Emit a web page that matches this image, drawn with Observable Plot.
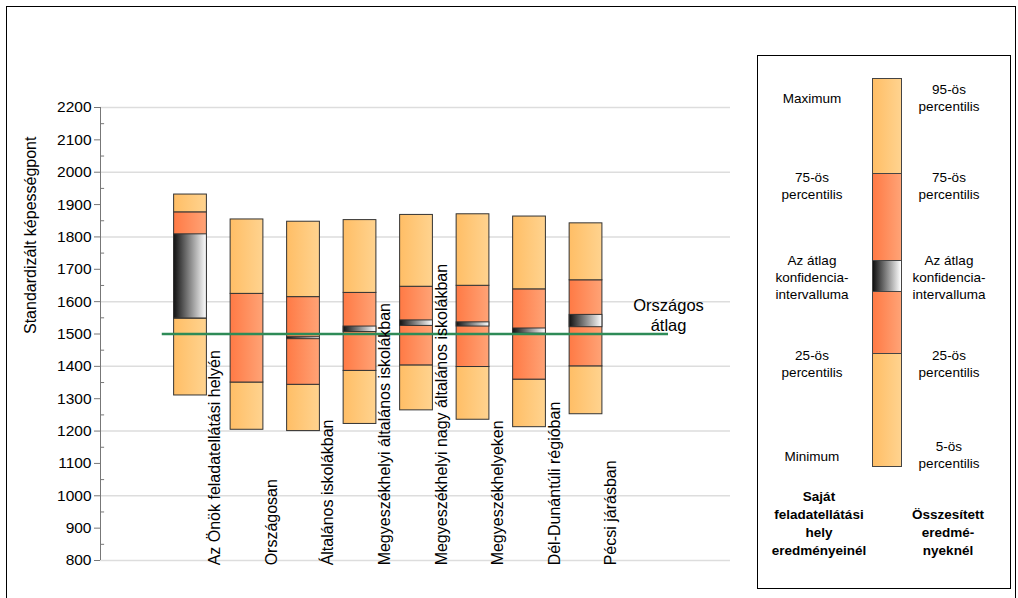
<!DOCTYPE html>
<html><head><meta charset="utf-8">
<script src="https://cdn.jsdelivr.net/npm/d3@7"></script>
<script src="https://cdn.jsdelivr.net/npm/@observablehq/plot@0.6"></script>
<style>
body{margin:0;font-family:Arial,"Liberation Sans",sans-serif;}
#wrap{position:relative;width:1018px;height:598px;background:#fff;}
#frame{position:absolute;left:6px;top:6px;width:1008px;height:600px;border:1px solid #000;}
#chart{position:absolute;left:0;top:0;}
#legend{position:absolute;left:757px;top:55px;width:254px;height:534px;border:1px solid #000;box-sizing:border-box;}
.lt{position:absolute;font-size:13.5px;text-align:center;line-height:17px;color:#000;}
.seg{position:absolute;left:114px;width:30px;box-sizing:border-box;border:1px solid #444;}
</style></head><body>
<div id="wrap"><div id="frame"></div><div id="chart"></div>
<div id="legend">
  <div class="seg" style="top:22px;height:96px;background:linear-gradient(90deg,#ffbe66,#ffd38f)"></div>
  <div class="seg" style="top:117px;height:88px;background:linear-gradient(90deg,#ff7a45,#ffa376)"></div>
  <div class="seg" style="top:204px;height:32px;background:linear-gradient(90deg,#111,#fff)"></div>
  <div class="seg" style="top:235px;height:63px;background:linear-gradient(90deg,#ff7a45,#ffa376)"></div>
  <div class="seg" style="top:297px;height:114px;background:linear-gradient(90deg,#ffbe66,#ffd38f)"></div>
  <div class="lt" style="left:0;width:108px;top:34px">Maximum</div>
  <div class="lt" style="left:0;width:108px;top:113px">75-ös<br>percentilis</div>
  <div class="lt" style="left:0;width:108px;top:196px">Az átlag<br>konfidencia-<br>intervalluma</div>
  <div class="lt" style="left:0;width:108px;top:291px">25-ös<br>percentilis</div>
  <div class="lt" style="left:0;width:108px;top:392px">Minimum</div>
  <div class="lt" style="left:144px;width:94px;top:25px">95-ös<br>percentilis</div>
  <div class="lt" style="left:144px;width:94px;top:113px">75-ös<br>percentilis</div>
  <div class="lt" style="left:144px;width:94px;top:196px">Az átlag<br>konfidencia-<br>intervalluma</div>
  <div class="lt" style="left:144px;width:94px;top:291px">25-ös<br>percentilis</div>
  <div class="lt" style="left:144px;width:94px;top:382px">5-ös<br>percentilis</div>
  <div class="lt" style="left:0;width:122px;top:432px;font-weight:bold;line-height:18px">Saját<br>feladatellátási<br>hely<br>eredményeinél</div>
  <div class="lt" style="left:140px;width:100px;top:450px;font-weight:bold;line-height:18px">Összesített<br>eredmé-<br>nyeknél</div>
</div>
</div>
<script>
const categories = ["Az Önök feladatellátási helyén", "Országosan", "Általános iskolákban",
  "Megyeszékhelyi általános iskolákban", "Megyeszékhelyi nagy általános iskolákban",
  "Megyeszékhelyeken", "Dél-Dunántúli régióban", "Pécsi járásban"];
const minV = [1310, 1204, 1200, 1222, 1264, 1235, 1212, 1252];
const p25 = [1548, 1350, 1343, 1386, 1403, 1398, 1359, 1400];
const p75 = [1876, 1624, 1614, 1627, 1646, 1649, 1638, 1666];
const maxV = [1931, 1854, 1847, 1852, 1868, 1870, 1863, 1842];
const ciLow = [1548, null, 1484, 1506, 1525, 1523, 1501, 1521];
const ciHigh = [1808, null, 1490, 1523, 1542, 1536, 1517, 1559];
const nationalAvg = 1500;

const rows = categories.map((c, i) => ({i, c, min: minV[i], p25: p25[i], p75: p75[i], max: maxV[i], lo: ciLow[i], hi: ciHigh[i]}));
const ci = rows.filter(d => d.lo != null);
const hw = 0.29;

const defs = () => {
  const g = d3.create("svg:defs");
  const add = (id, a, b) => {
    const lg = g.append("linearGradient").attr("id", id);
    lg.append("stop").attr("offset", "0%").attr("stop-color", a);
    lg.append("stop").attr("offset", "100%").attr("stop-color", b);
  };
  add("gLight", "#ffbe66", "#ffd38f");
  add("gOrange", "#ff7a45", "#ffa376");
  add("gCi", "#111", "#fff");
  return g.node();
};

const box = (y1, y2, fill, data = rows) => Plot.rect(data, {
  x1: d => d.i - hw, x2: d => d.i + hw, y1, y2, fill, stroke: "#333", strokeWidth: 1
});

const chart = Plot.plot({
  width: 740, height: 598, marginTop: 107, marginBottom: 38, marginLeft: 100, marginRight: 10,
  style: {fontFamily: "Arial, 'Liberation Sans', sans-serif", fontSize: "15px", color: "#000"},
  x: {domain: [-1.593, 9.557], axis: null},
  y: {domain: [800, 2200], label: null},
  marks: [
    defs,
    Plot.gridY(d3.range(800, 2201, 200), {stroke: "#ddd", strokeOpacity: 1, strokeWidth: 1.5}),
    Plot.ruleY(d3.range(850, 2200, 100), {x1: -1.593, x2: -1.52, stroke: "#777"}),
    Plot.ruleX([-1.593], {y1: 800, y2: 2200, stroke: "#777"}),
    Plot.axisY({ticks: d3.range(800, 2201, 100), tickFormat: d => String(d), tickSize: 6, stroke: "#777", fontSize: 15.5, label: null}),
    Plot.text(["Standardizált képességpont"], {frameAnchor: "left", dx: -70, dy: 0, rotate: -90, fontSize: 16}),
    box("min", "p25", "url(#gLight)"),
    box("p25", "p75", "url(#gOrange)"),
    box("p75", "max", "url(#gLight)"),
    box("lo", "hi", "url(#gCi)", ci),
    Plot.ruleY([nationalAvg], {x1: -0.5, x2: 8.46, stroke: "#2e8b57", strokeWidth: 2.5}),
    Plot.text(["Országos\nátlag"], {x: 8.46, y: 1560, fontSize: 16.5, lineHeight: 1.25}),
    Plot.text(rows, {x: d => d.i + 0.44, y: 785, text: "c", rotate: -90, textAnchor: "start", fontSize: 16})
  ]
});
document.getElementById("chart").append(chart);
</script>
</body></html>
